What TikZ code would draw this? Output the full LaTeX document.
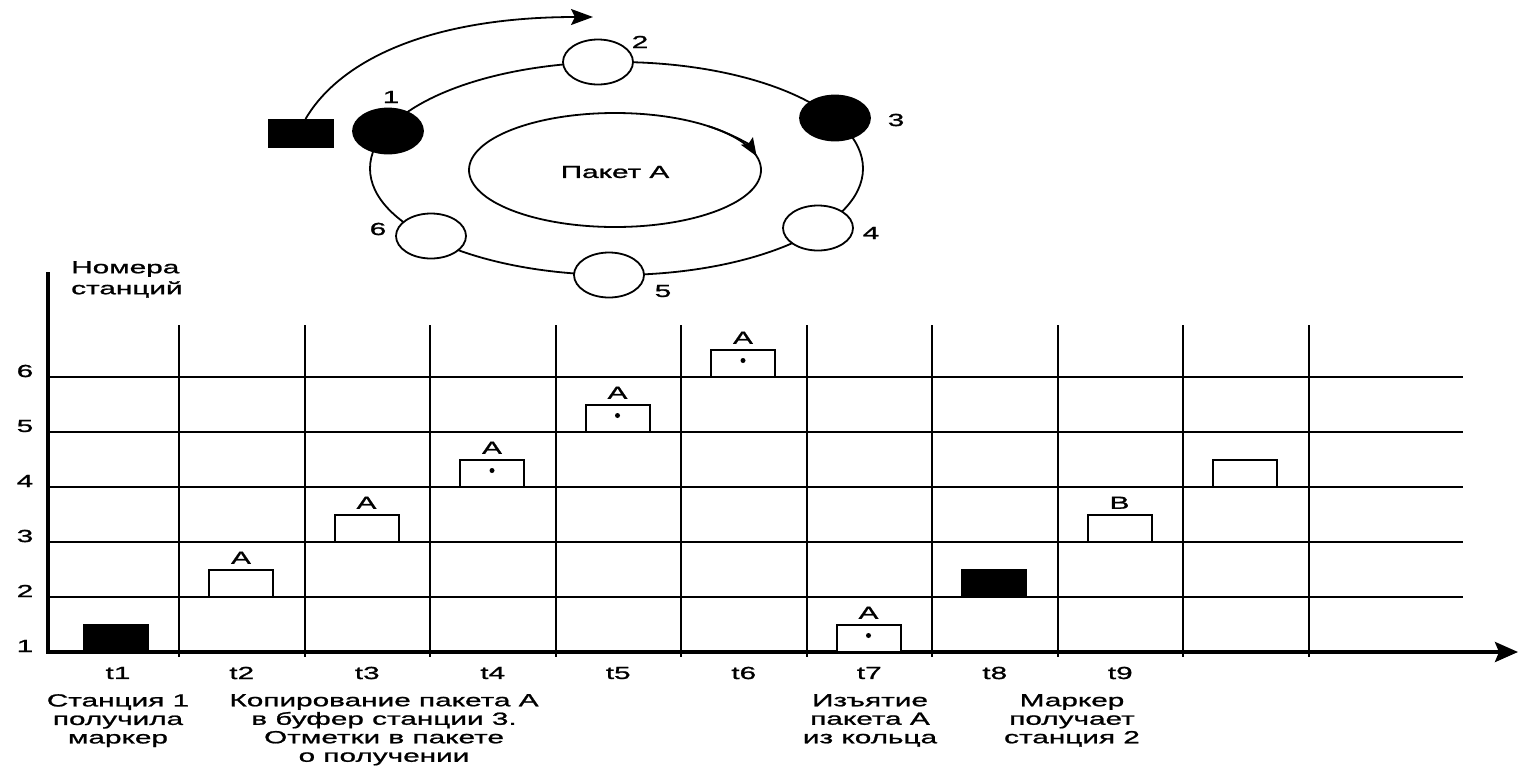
\documentclass[tikz,border=0pt]{standalone}
\usepackage{fontspec}
\setmainfont{Liberation Sans}[FakeStretch=1.7, FakeBold=1.2]
\usetikzlibrary{shapes.geometric,arrows.meta}

\begin{document}
\begin{tikzpicture}[x=1pt,y=1pt,
  lbl/.style={font=\fontsize{17.5}{18.5}\selectfont, inner sep=0pt},
  note/.style={lbl, align=center, anchor=north},
  station/.style={ellipse, draw, line width=1.8pt, fill=white,
    minimum width=70pt, minimum height=45pt, inner sep=0pt},
  busy/.style={station, fill=black},
  pkt/.style={draw, line width=2pt, fill=white,
    minimum width=64pt, minimum height=27pt, inner sep=0pt},
  token/.style={pkt, fill=black},
  gridline/.style={line width=2pt},
  ringline/.style={line width=1.8pt},
  bigtip/.style={-{Stealth[length=22pt,width=16pt,inset=4pt]}},
]
\useasboundingbox (0,0) rectangle (1520,-769);

% ---------------- ring of stations ----------------
\draw[ringline] (616.5,-168.5) ellipse [x radius=246.5pt, y radius=106.5pt];
\draw[ringline] (615,-170) ellipse [x radius=146pt, y radius=57pt];
\draw[ringline, -{Stealth[length=18pt,width=14pt,inset=3pt]}]
  (615,-170) ++(50:146pt and 57pt)
  arc[start angle=50, end angle=14, x radius=146pt, y radius=57pt];
\node[lbl] (pa) at (615,-172) {Пакет А};

\node[busy]    (s1) at (388,-131) {};
\node[station] (s2) at (598,-62)  {};
\node[busy]    (s3) at (835,-118) {};
\node[station] (s4) at (818,-228) {};
\node[station] (s5) at (609,-275) {};
\node[station] (s6) at (431,-236) {};

\node[lbl] (n1) at (391,-97)  {1};
\node[lbl] (n2) at (640,-42)  {2};
\node[lbl] (n3) at (896,-120) {3};
\node[lbl] (n4) at (871,-233) {4};
\node[lbl] (n5) at (663,-291) {5};
\node[lbl] (n6) at (378,-229) {6};

% token leaving station 1
\node[token] (tok) at (300.5,-133.5) {};
\coordinate (pass) at (593,-17);
\draw[ringline, bigtip] ([xshift=5pt]tok.north)
  .. controls (340,-60) and (430,-17) .. (pass);

% ---------------- time chart ----------------
\coordinate (O)    at (48,-652);
\coordinate (ytop) at (48,-272);
\coordinate (xend) at (1518,-652);

\foreach \r in {2,...,6}
  \draw[gridline] (48,{-652+55*(\r-1)}) -- (1463,{-652+55*(\r-1)});
\foreach \k in {0,...,9}
  \draw[gridline] ({179+125.5*\k},-325) -- ({179+125.5*\k},-657);

\draw[line width=4.5pt] ([yshift=-1.5pt]O) -- (ytop);
\draw[line width=3.5pt, -{Stealth[length=23pt,width=20pt,inset=4pt]}]
  ([xshift=-2pt]O) -- (xend);

\foreach \r in {1,...,6}
  \node[lbl] (row\r) at (25,{-652+55*(\r-1)+6}) {\r};

\node[lbl, align=left, anchor=north west,
      font=\fontsize{17.5}{21}\selectfont] (ytitle) at (71,-261)
  {Номера\\станций};

% packets and tokens in time slots
\node[token] (p1) at (115.5,-638.5) {};
\node[pkt]   (p2) at (241,-583.5) {};
\node[pkt]   (p3) at (366.5,-528.5) {};
\node[pkt]   (p4) at (492,-473.5) {};
\node[pkt]   (p5) at (617.5,-418.5) {};
\node[pkt]   (p6) at (743,-363.5) {};
\node[pkt]   (p7) at (868.5,-638.5) {};
\node[token] (p8) at (994,-583.5) {};
\node[pkt]   (p9) at (1119.5,-528.5) {};
\node[pkt]   (p10) at (1245,-473.5) {};

\foreach \p in {2,...,7}
  \node[lbl, anchor=south] (a\p) at ([yshift=5pt]p\p.north) {А};
\node[lbl, anchor=south] (b9) at ([yshift=5pt]p9.north) {В};

\foreach \p in {4,...,7}
  \fill ([yshift=3pt]p\p.center) circle[radius=2.5pt];

% time labels
\node[lbl] (t1) at (118,-673) {t1};
\foreach \k/\x in {2/241.75,3/367.25,4/492.75,5/618.25,6/743.75,7/869.25,8/994.75,9/1120.25}
  \node[lbl] (t\k) at (\x,-673) {t\k};

% notes under the time axis
\node[note] (c1) at (118,-694)  {Станция 1\\получила\\маркер};
\node[note] (c2) at (384,-694)  {Копирование пакета А\\в буфер станции 3.\\Отметки в пакете\\о получении};
\node[note] (c3) at (870,-694)  {Изъятие\\пакета А\\из кольца};
\node[note] (c4) at (1072,-694) {Маркер\\получает\\станция 2};
\end{tikzpicture}
\end{document}
